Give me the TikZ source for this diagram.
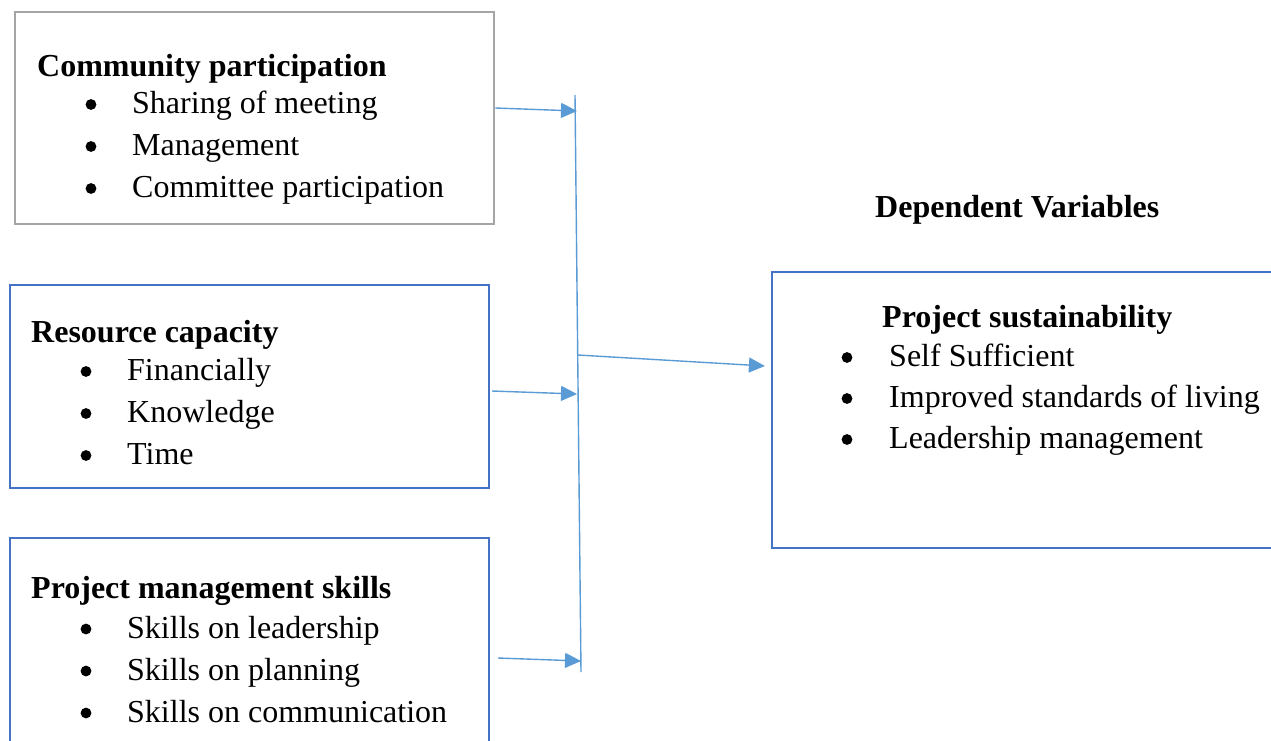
\documentclass[tikz,border=0pt]{standalone}
\usepackage{fontspec}
\setmainfont{Liberation Serif}
\usetikzlibrary{arrows.meta}
\definecolor{boxblue}{HTML}{4472C4}
\definecolor{boxgray}{HTML}{A5A5A5}
\definecolor{linkblue}{HTML}{5B9BD5}
\begin{document}
\begin{tikzpicture}[x=1pt,y=-1pt,
  frame/.style={draw=boxblue,line width=2.2pt,inner sep=0pt,rectangle},
  grayframe/.style={frame,draw=boxgray,line width=2.8pt},
  label/.style={inner sep=0pt,anchor=base west,font=\fontsize{32}{42}\selectfont},
  head/.style={label,font=\fontsize{32}{42}\selectfont\bfseries},
  link/.style={draw=linkblue,line width=1.4pt},
  arrowlink/.style={link,-{Triangle[length=16pt,width=15pt]}},
  dot/.style={fill=black}]
\useasboundingbox (0,0) rectangle (1271,740);
\clip (0,0) rectangle (1271,740);
\fill[white] (0,0) rectangle (1271,740);

% frames
\node[grayframe,minimum width=479pt,minimum height=212pt] (cp) at (254.5,118) {};
\node[frame,minimum width=479pt,minimum height=203pt] (rc) at (249.5,386.5) {};
\node[frame,minimum width=479pt,minimum height=232pt] (pm) at (249.5,654) {};
\node[frame,minimum width=528pt,minimum height=276pt] (ps) at (1036,410) {};

% independent variables
\node[head] (cpt) at (37,76) {Community participation};
\node[label] (cp1) at (132,113) {Sharing of meeting};
\node[label] (cp2) at (132,155) {Management};
\node[label] (cp3) at (132,197) {Committee participation};
\foreach \y in {104.5,146.5,188.5} \fill[dot] (91,\y) circle (5.4);

\node[head] (rct) at (31,342) {Resource capacity};
\node[label] (rc1) at (127,380) {Financially};
\node[label] (rc2) at (127,422) {Knowledge};
\node[label] (rc3) at (127,464) {Time};
\foreach \y in {371.5,413.5,455.5} \fill[dot] (86,\y) circle (5.4);

\node[head] (pmt) at (31,598) {Project management skills};
\node[label] (pm1) at (127,638) {Skills on leadership};
\node[label] (pm2) at (127,680) {Skills on planning};
\node[label] (pm3) at (127,722) {Skills on communication};
\foreach \y in {629,671,713} \fill[dot] (86,\y) circle (5.4);

% dependent variable
\node[head] (dv) at (875,217) {Dependent Variables};
\node[head] (pst) at (882,327) {Project sustainability};
\node[label] (ps1) at (889,366) {Self Sufficient};
\node[label] (ps2) at (889,407) {Improved standards of living};
\node[label] (ps3) at (889,448) {Leadership management};
\foreach \y in {357.5,398.5,439.5} \fill[dot] (847,\y) circle (5.4);

% collecting bar and connectors
\coordinate (bartop) at (575,95);
\coordinate (barbot) at (581,672);
\coordinate (j1) at (577,111);
\coordinate (j2) at (577,394);
\coordinate (j3) at (581,661);
\coordinate (j4) at (578,355);
\draw[link] (bartop) -- (barbot);
\draw[arrowlink] ([yshift=10pt]cp.east) -- (j1);
\draw[arrowlink] ([xshift=2pt,yshift=-4.5pt]rc.east) -- (j2);
\draw[arrowlink] ([xshift=8pt,yshift=-4pt]pm.east) -- (j3);
\draw[arrowlink] (j4) -- ([xshift=-6pt,yshift=44pt]ps.west);
\end{tikzpicture}
\end{document}
